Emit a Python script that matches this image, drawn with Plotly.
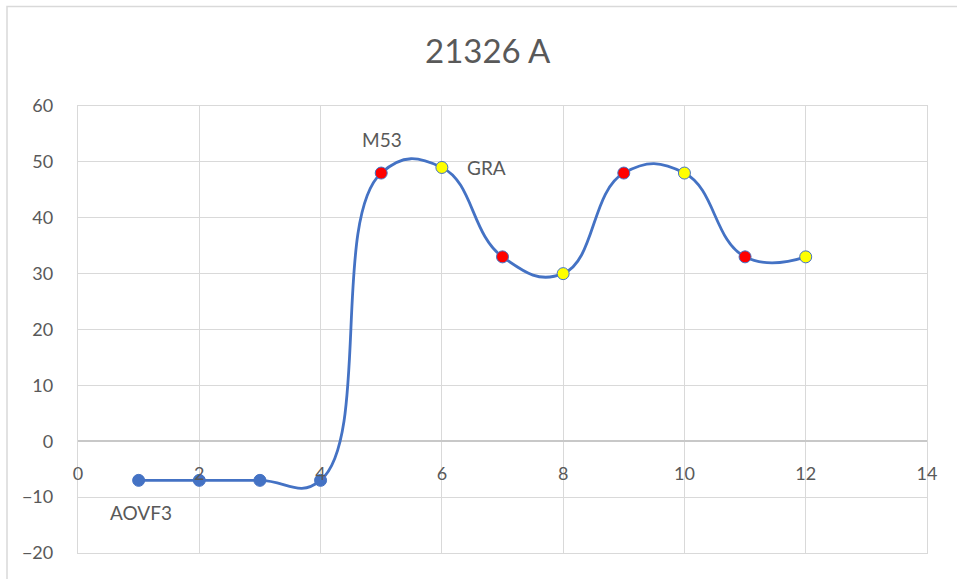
import plotly.graph_objects as go

# ---- data ----
x_vals = [1, 2, 3, 4, 5, 6, 7, 8, 9, 10, 11, 12]
y_vals = [-7, -7, -7, -7, 48, 49, 33, 30, 48, 48, 33, 33]
point_groups = ["base", "base", "base", "base", "red", "yellow", "red", "yellow", "red", "yellow", "red", "yellow"]
label_texts = ["AOVF3", "M53", "GRA"]
label_points = [0, 4, 5]
title_text = "21326 A"

# ---- style ----
BLUE = "#4472C4"
group_color = {"base": BLUE, "red": "#FF0000", "yellow": "#FFFF00"}
marker_colors = [group_color[g] for g in point_groups]
FONT = "Lato, Liberation Sans, sans-serif"
TXT = "#595959"
GRID = "#d9d9d9"

fig = go.Figure()
fig.add_trace(go.Scatter(
    x=x_vals, y=y_vals, mode="lines+markers",
    line=dict(color=BLUE, width=2.8, shape="spline", smoothing=1.3),
    marker=dict(size=12, color=marker_colors, line=dict(color=BLUE, width=1)),
    showlegend=False, hoverinfo="x+y",
))
# carrier trace so the label axis (crossing at y=0) is drawn
fig.add_trace(go.Scatter(x=x_vals, y=y_vals, xaxis="x2", mode="none",
                         showlegend=False, hoverinfo="skip"))

shifts = [(2, -32), (1, 34), (45, 0)]
for txt, idx, (dx, dy) in zip(label_texts, label_points, shifts):
    fig.add_annotation(x=x_vals[idx], y=y_vals[idx], text=txt, showarrow=False,
                       xshift=dx, yshift=dy, font=dict(family=FONT, size=19, color=TXT))

fig.add_annotation(x=(488 - 78) / 849, y=1.0, xref="paper", yref="paper", yshift=78,
                   text=title_text, showarrow=False,
                   font=dict(family=FONT, size=33, color=TXT))

# outer chart frame
fig.add_shape(type="rect", xref="paper", yref="paper",
              x0=(7 - 78) / 849, x1=(975 - 78) / 849,
              y0=(553 - 600) / 447.5, y1=(553 - 6) / 447.5,
              line=dict(color="#d9d9d9", width=1.5), layer="below")

ymin, ymax = -20, 60
xrange_ = [0, 14]
fig.update_layout(
    width=957, height=579,
    margin=dict(l=78, r=30, t=106, b=26),
    paper_bgcolor="white", plot_bgcolor="white",
    font=dict(family=FONT, size=14, color=TXT),
    xaxis=dict(range=xrange_, dtick=2, tick0=0, showgrid=True, gridcolor=GRID, gridwidth=1.3,
               zeroline=False, showline=True, linecolor=GRID, linewidth=1.3, mirror=True,
               ticks="", showticklabels=False),
    xaxis2=dict(range=xrange_, dtick=2, tick0=0, overlaying="x", matches="x",
                anchor="free", position=(0 - ymin) / (ymax - ymin),
                showgrid=False, zeroline=False, showline=False, ticks="",
                ticklabelstandoff=20, tickfont=dict(family=FONT, size=18, color=TXT)),
    yaxis=dict(range=[ymin, ymax], dtick=10, tick0=0, showgrid=True, gridcolor=GRID, gridwidth=1.3,
               zeroline=True, zerolinecolor="#c8c8c8", zerolinewidth=1.5,
               showline=True, linecolor=GRID, linewidth=1.3, mirror=True,
               ticks="", ticklabelstandoff=20,
               tickfont=dict(family=FONT, size=18, color=TXT)),
)

fig.write_html("out.html", post_script="document.body.style.margin='0';",
               config={"displayModeBar": False})
